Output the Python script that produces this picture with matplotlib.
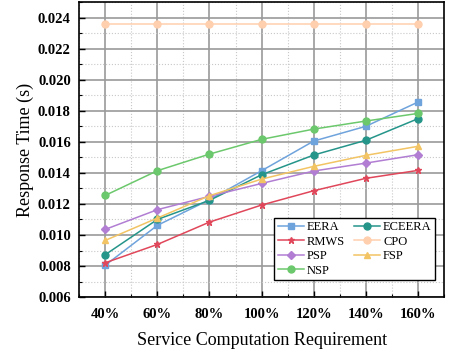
import matplotlib.pyplot as plt
from matplotlib.ticker import MultipleLocator

plt.rcParams['font.family'] = ['Liberation Serif', 'DejaVu Serif']

# x categories
requirements = ["40%", "60%", "80%", "100%", "120%", "140%", "160%"]

# response time per algorithm (s)
eera = [0.00805, 0.01062, 0.01227, 0.01414, 0.01605, 0.01700, 0.01856]
eceera = [0.00873, 0.01100, 0.01223, 0.01388, 0.01515, 0.01610, 0.01749]
rmws = [0.00821, 0.00939, 0.01083, 0.01193, 0.01285, 0.01365, 0.01416]
cpo = [0.02357, 0.02357, 0.02357, 0.02357, 0.02357, 0.02357, 0.02357]
psp = [0.01036, 0.01163, 0.01249, 0.01332, 0.01412, 0.01463, 0.01517]
fsp = [0.00965, 0.01109, 0.01253, 0.01360, 0.01442, 0.01513, 0.01571]
nsp = [0.01255, 0.01414, 0.01521, 0.01616, 0.01682, 0.01734, 0.01783]

x = list(range(len(requirements)))

fig, ax = plt.subplots(figsize=(4.63, 3.52), dpi=100)
fig.subplots_adjust(left=0.171, right=0.959, top=0.994, bottom=0.156)

lw = 1.1
ms = 5
h_eera, = ax.plot(x, eera, '-s', color="#6fa3dc", lw=lw, ms=ms, label="EERA")
h_eceera, = ax.plot(x, eceera, '-o', color="#25958a", lw=lw, ms=ms, label="ECEERA")
h_rmws, = ax.plot(x, rmws, '-*', color="#e0475a", lw=lw, ms=ms, label="RMWS")
h_cpo, = ax.plot(x, cpo, '-o', color="#ffcfae", lw=lw, ms=ms, label="CPO")
h_psp, = ax.plot(x, psp, '-D', color="#b17ed3", lw=lw, ms=4.5, label="PSP")
h_fsp, = ax.plot(x, fsp, '-^', color="#f2c464", lw=lw, ms=ms, label="FSP")
h_nsp, = ax.plot(x, nsp, '-o', color="#6cc86c", lw=lw, ms=ms, label="NSP")

ax.set_xlim(-0.5, 6.5)
ax.set_ylim(0.006, 0.025)
ax.set_xticks(x)
ax.set_xticklabels(requirements)
ax.xaxis.set_minor_locator(MultipleLocator(0.5))
ax.yaxis.set_major_locator(MultipleLocator(0.002))
ax.yaxis.set_minor_locator(MultipleLocator(0.001))
ax.yaxis.set_major_formatter(plt.FormatStrFormatter('%.3f'))

for lab in ax.get_xticklabels() + ax.get_yticklabels():
    lab.set_fontweight('bold')
    lab.set_fontsize(10.5)

ax.tick_params(which='both', direction='in', top=False, right=False)
ax.tick_params(which='major', length=4, width=1)
ax.tick_params(which='minor', length=2.5, width=0.8)
ax.tick_params(axis='x', pad=8)
ax.tick_params(axis='y', pad=6)

ax.grid(True, which='major', color='#9a9a9a', lw=1.2, ls='-')
ax.grid(True, which='minor', color='#c8c8c8', lw=0.8, ls=':')
ax.set_axisbelow(True)

for s in ax.spines.values():
    s.set_linewidth(1.2)

ax.set_xlabel("Service Computation Requirement", fontsize=13, labelpad=8)
ax.set_ylabel("Response Time (s)", fontsize=13, labelpad=3)

# legend fills column by column
handles = [h_eera, h_rmws, h_psp, h_nsp, h_eceera, h_cpo, h_fsp]
leg = ax.legend(handles=handles, ncol=2, loc='lower right',
                bbox_to_anchor=(0.975, 0.058), fontsize=9,
                fancybox=False, edgecolor='black', framealpha=1,
                handlelength=2.1, borderpad=0.25, labelspacing=0.2,
                columnspacing=0.7, handletextpad=0.25, borderaxespad=0)
leg.get_frame().set_linewidth(1.0)

plt.savefig("out.png", dpi=100)
